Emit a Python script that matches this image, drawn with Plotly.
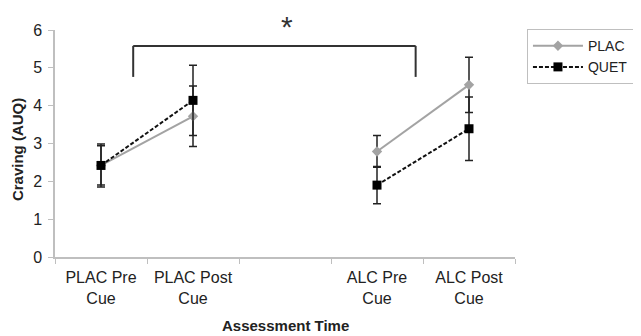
import plotly.graph_objects as go

categories = ["PLAC Pre<br>Cue", "PLAC Post<br>Cue", " ", "ALC Pre<br>Cue", "ALC Post<br>Cue"]
x_plac = ["PLAC Pre<br>Cue", "PLAC Post<br>Cue", "ALC Pre<br>Cue", "ALC Post<br>Cue"]
plac_vals = [2.42, 3.72, 2.79, 4.55]
plac_err = [0.52, 0.80, 0.42, 0.73]
quet_vals = [2.42, 4.14, 1.90, 3.39]
quet_err = [0.57, 0.93, 0.49, 0.84]
y_ticks = [0, 1, 2, 3, 4, 5, 6]

FONT = "Liberation Sans, Arial, sans-serif"
fig = go.Figure()

for seg, show in [(slice(0, 2), True), (slice(2, 4), False)]:
    fig.add_trace(go.Scatter(
        x=x_plac[seg], y=plac_vals[seg], name="PLAC", legendgroup="PLAC", showlegend=show,
        mode="lines+markers",
        line=dict(color="#a3a3a3", width=2),
        marker=dict(symbol="diamond", size=8, color="#a3a3a3"),
        error_y=dict(type="data", array=plac_err[seg], color="#222222", thickness=1.5, width=4),
    ))
for seg, show in [(slice(0, 2), True), (slice(2, 4), False)]:
    fig.add_trace(go.Scatter(
        x=x_plac[seg], y=quet_vals[seg], name="QUET", legendgroup="QUET", showlegend=show,
        mode="lines+markers",
        line=dict(color="#111111", width=2, dash="4px,2px"),
        marker=dict(symbol="square", size=9, color="#000000"),
        error_y=dict(type="data", array=quet_err[seg], color="#222222", thickness=1.5, width=4),
    ))

# significance bracket
bx0, bx1, by_top, by_bot = 0.35, 3.42, 5.58, 4.76
for (xa, ya, xb, yb) in [(bx0, by_bot, bx0, by_top), (bx0, by_top, bx1, by_top), (bx1, by_top, bx1, by_bot)]:
    fig.add_shape(type="line", xref="x", yref="y", x0=xa, y0=ya, x1=xb, y1=yb,
                  line=dict(color="#333333", width=2))
fig.add_annotation(x=2.02, y=1.095, xref="x", yref="paper", xanchor="center", yanchor="top",
                   text="*", showarrow=False, font=dict(size=30, color="#333333", family=FONT))

# axis titles
fig.add_annotation(x=-0.0826, y=0.471, xref="paper", yref="paper", xanchor="center", yanchor="middle",
                   text="<b>Craving (AUQ)</b>", textangle=-90, showarrow=False,
                   font=dict(size=15, color="#222222", family=FONT))
fig.add_annotation(x=0.5, y=-0.2996, xref="paper", yref="paper", xanchor="center", yanchor="middle",
                   text="<b>Assessment Time</b>", showarrow=False,
                   font=dict(size=15, color="#222222", family=FONT))

fig.update_layout(
    width=633, height=328,
    margin=dict(l=47, r=126, t=22, b=79, autoexpand=False),
    paper_bgcolor="white", plot_bgcolor="white",
    font=dict(family=FONT, size=14, color="#222222"),
    legend=dict(x=1.026, y=1.004, xanchor="left", yanchor="top",
                bordercolor="#bfbfbf", borderwidth=1, font=dict(size=14),
                tracegroupgap=0, itemwidth=50),
    showlegend=True,
)
fig.update_xaxes(
    type="category", categoryorder="array", categoryarray=categories,
    range=[-0.5, 4.5], tickson="boundaries", ticks="outside", ticklen=5,
    tickcolor="#bfbfbf", showline=True, linecolor="#bfbfbf", linewidth=1.5,
    showgrid=False, zeroline=False, tickfont=dict(size=16), automargin=False,
    ticklabelstandoff=5,
)
fig.update_yaxes(
    range=[0, 6], tickvals=y_ticks, ticks="outside", ticklen=5,
    tickcolor="#bfbfbf", showline=True, linecolor="#bfbfbf", linewidth=1.5,
    showgrid=False, zeroline=False, tickfont=dict(size=16), automargin=False,
    ticklabelstandoff=3,
)

fig.write_html("out.html")
